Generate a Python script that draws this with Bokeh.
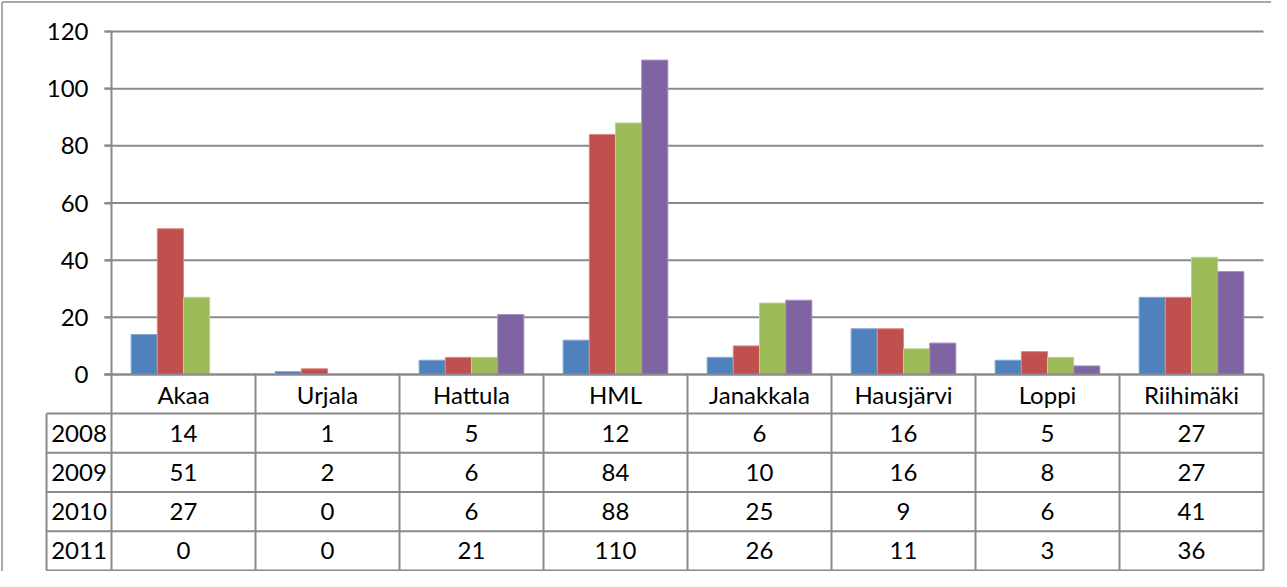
from bokeh.plotting import figure
from bokeh.models import FixedTicker
from bokeh.core.properties import value
from bokeh.embed import file_html
from bokeh.resources import INLINE
import numpy as np

# ---- data ----
categories = ["Akaa", "Urjala", "Hattula", "HML", "Janakkala", "Hausjärvi", "Loppi", "Riihimäki"]
years = ["2008", "2009", "2010", "2011"]
v2008 = [14, 1, 5, 12, 6, 16, 5, 27]
v2009 = [51, 2, 6, 84, 10, 16, 8, 27]
v2010 = [27, 0, 6, 88, 25, 9, 6, 41]
v2011 = [0, 0, 21, 110, 26, 11, 3, 36]
y_ticks = [0, 20, 40, 60, 80, 100, 120]

series = [v2008, v2009, v2010, v2011]
colors = ["#4F81BD", "#C0504D", "#9BBB59", "#8064A2"]
edges = ["#86a7d2", "#d58a88", "#bcd38f", "#a993c6"]

FONT = "Lato"
FSIZE = "24px"
GRAY = "#8a8a8a"

W, H = 1271, 571
# page geometry (pixels on the page)
AX_X, CAT_W, Y0, Y120 = 119, 144, 382, 39
ppu = (Y0 - Y120) / 120.0


def dx(px):
    return (px - AX_X) / CAT_W


def dy(py):
    return (Y0 - py) / ppu


p = figure(width=W, height=H, output_backend="svg", toolbar_location=None,
           x_range=(dx(8), dx(8 + W)), y_range=(dy(8 + H), dy(8)),
           x_axis_location=None, min_border=0, min_border_left=0,
           min_border_right=0, min_border_top=0, min_border_bottom=0)
p.outline_line_color = None
p.background_fill_color = "white"
p.border_fill_color = "white"
p.xgrid.visible = False
p.ygrid.visible = False

ax = p.yaxis[0]
ax.fixed_location = 0
ax.bounds = (0, 120)
ax.ticker = FixedTicker(ticks=y_ticks)
ax.major_tick_out = 7
ax.major_tick_in = 0
ax.minor_tick_line_color = None
ax.axis_line_color = GRAY
ax.axis_line_width = 2
ax.major_tick_line_color = GRAY
ax.major_tick_line_width = 2
ax.major_label_text_font = FONT
ax.major_label_text_font_size = FSIZE
ax.major_label_text_color = "black"
ax.major_label_standoff = 16

# gridlines at tick values
p.segment(x0=dx(112), x1=len(categories) * 1.0, y0=y_ticks, y1=y_ticks,
          line_color=GRAY, line_width=2)

# bars
n = len(series)
bw = 1.0 / (n + 1.5)
xc = np.arange(len(categories)) + 0.5
for s, vals in enumerate(series):
    p.vbar(x=xc + (s - (n - 1) / 2) * bw, top=vals, bottom=0, width=bw,
           fill_color=colors[s], line_color=edges[s], line_width=1)

# redraw zero line over bar bottoms
p.segment(x0=[dx(112)], x1=[len(categories) * 1.0], y0=[0], y1=[0],
          line_color=GRAY, line_width=2)

# ---- data table ----
row_edges = [421, 460.25, 499.5, 538.75, 578]
# horizontal lines
p.segment(x0=[dx(54)] * len(row_edges), x1=[len(categories) * 1.0] * len(row_edges),
          y0=[dy(r) for r in row_edges], y1=[dy(r) for r in row_edges],
          line_color=GRAY, line_width=2)
# vertical lines at category boundaries
kx = list(range(len(categories) + 1))
p.segment(x0=kx, x1=kx, y0=[dy(382)] * len(kx), y1=[dy(578)] * len(kx),
          line_color=GRAY, line_width=2)
p.segment(x0=[dx(54)], x1=[dx(54)], y0=[dy(421)], y1=[dy(578)],
          line_color=GRAY, line_width=2)

# header text
p.text(x=xc, y=[dy(401.5)] * len(categories), text=categories,
       text_font=value(FONT), text_font_size=value(FSIZE), text_color="black",
       text_align="center", text_baseline="middle")
# row labels + values
for r, (yr, vals) in enumerate(zip(years, series)):
    yc = dy((row_edges[r] + row_edges[r + 1]) / 2)
    p.text(x=[dx(86.5)], y=[yc], text=[yr],
           text_font=value(FONT), text_font_size=value(FSIZE), text_color="black",
           text_align="center", text_baseline="middle")
    p.text(x=xc, y=[yc] * len(vals), text=[str(v) for v in vals],
           text_font=value(FONT), text_font_size=value(FSIZE), text_color="black",
           text_align="center", text_baseline="middle")

# outer chart frame (left and top edges)
p.segment(x0=[dx(9.5), dx(9.5)], x1=[dx(9.5), dx(8 + W)],
          y0=[dy(9.5), dy(9.5)], y1=[dy(8 + H), dy(9.5)],
          line_color="#8c8c8c", line_width=1.5)

open("out.html", "w").write(file_html(p, INLINE))
